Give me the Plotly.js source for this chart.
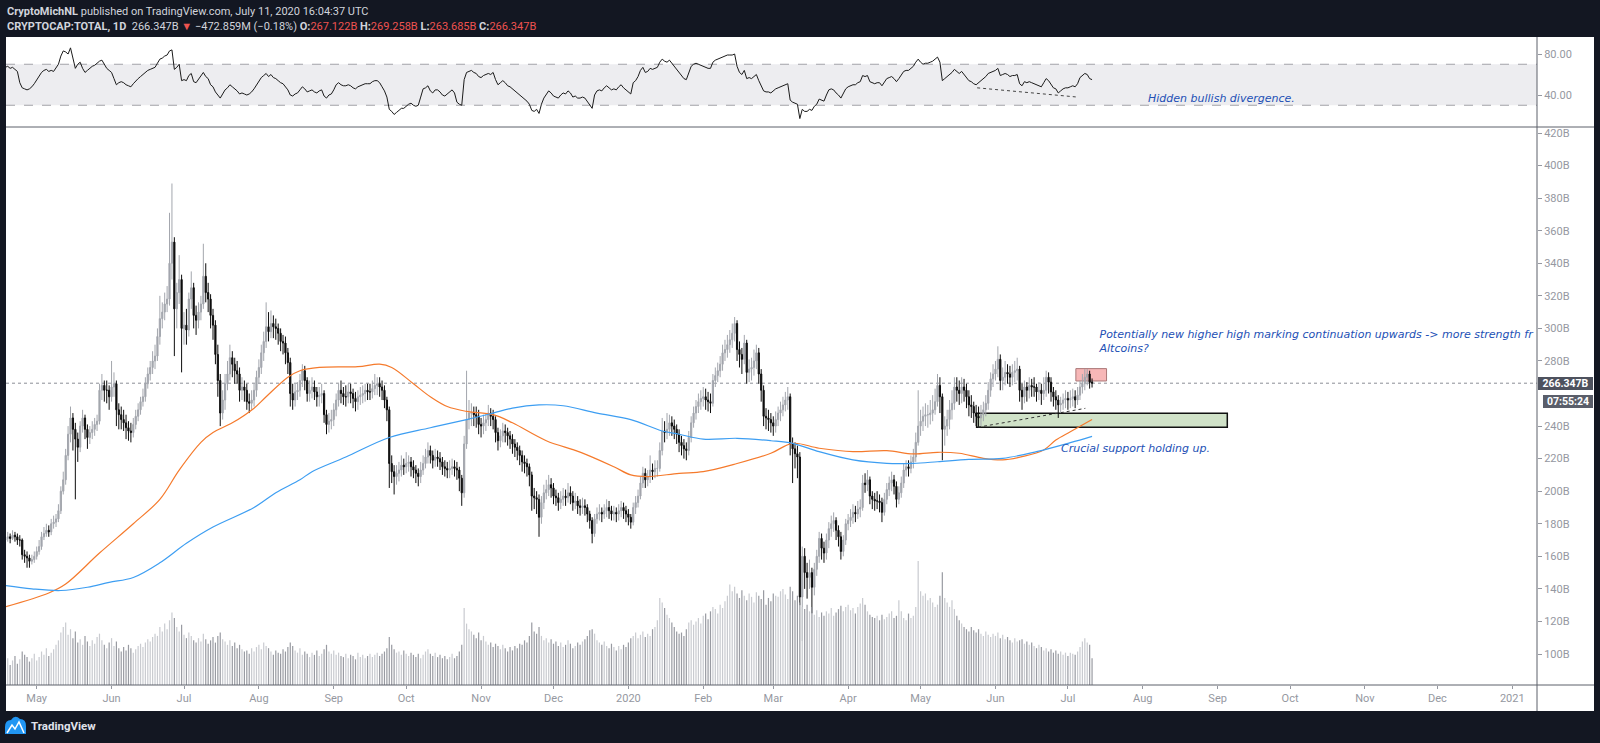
<!DOCTYPE html>
<html><head><meta charset="utf-8">
<script src="https://cdn.plot.ly/plotly-3.0.1.min.js"></script>
<style>html,body{margin:0;padding:0;background:#131722;overflow:hidden}#chart{width:1600px;height:743px}</style>
</head><body><div id="chart"></div>
<script>
// ---- data (daily candles, CRYPTOCAP:TOTAL, in billions USD), first candle 2019-04-18 ----
const firstDay = [2019, 3, 18];
const openP = [170,171,172,171,173,172,170,170,161,160,159,157,158,160,163,166,172,174,176,175,180,181,183,188,200,207,222,235,245,238,232,227,240,245,238,233,236,238,241,243,262,265,262,262,258,264,266,250,247,244,242,239,237,236,241,246,250,255,258,266,272,276,280,283,295,306,310,315,318,340,353,312,322,330,300,302,299,318,325,308,305,310,315,332,322,318,308,302,284,268,248,256,266,272,282,278,274,272,262,264,262,255,254,256,262,270,276,285,292,301,298,303,301,300,297,292,291,285,279,260,256,261,262,268,274,268,260,262,264,261,258,259,260,247,241,243,244,250,256,262,260,258,258,261,260,257,255,258,259,260,262,261,261,263,265,266,264,262,256,250,217,212,209,211,213,216,215,217,218,215,213,211,209,213,217,221,225,222,219,221,220,218,215,214,213,214,215,214,213,208,199,229,244,248,248,247,246,241,240,242,244,248,246,244,236,231,234,237,236,234,232,229,227,225,222,218,217,215,210,197,196,195,184,193,199,201,204,202,197,196,193,195,197,196,199,197,193,194,191,190,191,190,186,182,174,183,186,187,186,188,190,188,186,187,186,188,190,188,186,184,181,190,193,197,205,211,207,209,213,212,214,214,225,237,236,238,242,240,238,235,230,228,226,225,233,242,248,252,255,257,258,256,255,254,268,271,274,278,285,287,290,293,297,303,287,284,281,291,273,275,276,280,285,272,262,246,245,244,242,240,244,248,250,253,256,258,229,226,223,221,135,160,150,147,150,141,152,160,171,165,162,170,177,180,182,176,172,163,170,180,182,184,187,186,189,190,205,204,207,197,195,194,194,193,187,195,201,205,207,203,195,199,205,213,215,214,218,221,230,240,243,246,247,247,248,250,255,265,258,238,240,244,250,254,264,262,260,264,262,258,253,252,248,246,245,247,250,254,262,269,272,275,281,268,270,273,272,270,273,274,275,262,258,264,262,265,264,264,261,262,260,262,270,267,261,258,256,253,254,256,257,256,257,258,256,259,264,266,270,272,267.122];
const highP = [174,175,174,176,175,174,173,171,164,163,161,161,163,166,170,175,178,180,179,183,185,186,192,203,212,226,240,252,248,242,236,243,250,247,241,240,243,245,247,266,272,268,268,265,280,273,268,254,252,250,247,243,242,245,250,254,258,263,270,276,280,286,290,300,320,316,322,326,371,389,356,328,345,333,310,312,322,335,328,314,316,320,352,340,328,321,312,305,290,272,262,272,280,290,286,282,280,276,270,268,266,260,262,266,274,281,290,298,316,310,311,308,306,303,300,296,295,288,282,266,266,267,272,278,277,270,268,270,268,264,264,266,262,250,248,250,254,260,266,268,264,265,266,266,263,261,262,264,265,266,266,266,268,272,270,270,268,265,258,252,222,216,216,218,222,220,224,222,221,219,216,214,218,222,226,230,228,225,226,225,224,221,219,218,219,220,219,218,215,210,234,274,256,254,252,252,250,245,247,248,253,251,250,246,239,238,242,241,239,237,235,232,230,228,225,222,220,217,212,202,200,198,197,204,207,210,208,205,201,199,200,202,201,205,203,200,199,197,195,196,195,192,188,184,186,190,192,190,192,195,194,191,191,190,192,194,193,191,189,186,193,197,201,209,215,214,213,222,217,219,219,230,245,243,248,247,246,244,241,238,234,232,230,237,246,252,256,260,262,264,263,261,260,272,276,279,283,290,293,296,299,303,307,305,292,288,296,293,281,282,287,290,288,275,265,251,250,248,246,249,252,255,258,261,264,260,233,230,228,224,166,165,156,158,153,156,164,175,174,169,174,181,185,187,184,179,175,173,183,186,189,192,191,194,195,210,211,213,209,200,199,200,198,196,199,205,209,212,210,206,203,209,217,219,219,222,226,236,262,250,252,254,253,256,259,263,272,270,260,246,250,256,262,270,270,268,270,269,266,262,259,255,253,252,253,255,259,267,273,278,280,289,284,276,280,278,277,278,280,282,277,266,268,267,270,269,270,266,267,266,270,274,273,270,264,262,259,258,260,262,261,262,263,262,264,268,272,275,275,274,269.258];
const lowP = [168,169,168,170,169,167,166,158,156,153,153,155,156,158,161,164,170,172,172,173,177,178,181,186,198,204,219,230,225,195,218,224,236,232,226,229,232,234,237,241,256,255,254,250,255,258,240,238,238,237,232,231,230,233,238,243,247,252,255,263,268,272,275,280,290,300,305,310,314,330,283,300,315,273,290,290,295,312,300,296,300,305,312,316,310,300,293,278,258,240,244,250,262,268,270,266,266,255,256,255,250,248,250,252,258,266,272,280,288,292,294,294,293,290,286,284,278,272,252,250,252,256,258,264,262,255,255,257,256,252,252,254,242,235,236,238,240,246,252,254,253,252,254,254,251,249,250,253,254,255,256,256,257,259,259,258,256,251,243,202,205,198,204,206,209,210,211,212,209,208,205,203,205,210,214,217,217,214,215,215,213,210,209,208,208,210,209,207,200,191,196,226,238,240,240,239,235,233,235,237,240,240,238,230,225,227,230,230,228,226,223,221,219,216,212,211,209,203,188,189,186,172,180,189,195,197,196,192,191,188,189,191,191,193,192,188,189,186,185,186,185,181,177,168,172,180,182,181,183,184,183,182,182,181,182,184,183,181,179,177,179,186,190,195,202,202,203,205,207,208,209,212,222,230,232,234,234,232,229,224,222,220,219,222,230,239,244,248,250,252,250,249,248,252,264,267,270,274,280,282,285,288,292,280,276,272,278,266,267,268,271,275,266,255,240,238,237,236,234,236,240,243,246,249,250,222,205,214,208,130,108,140,134,140,125,136,148,156,158,156,158,165,172,175,170,166,158,160,167,176,178,180,181,183,184,188,199,200,192,189,188,189,187,181,185,192,197,200,198,190,192,196,202,209,209,211,214,218,228,234,237,240,239,241,243,247,252,248,219,228,234,238,244,250,255,253,254,255,251,246,245,242,240,239,240,243,246,250,258,264,268,270,262,262,265,266,264,265,267,268,255,250,254,255,257,258,258,255,256,253,256,258,260,255,252,250,245,248,250,251,250,251,252,251,253,256,260,262,265,263,263.685];
const closeP = [171,172,171,173,172,170,170,161,160,159,157,158,160,163,166,172,174,176,175,180,181,183,188,200,207,222,235,245,238,232,227,240,245,238,233,236,238,241,243,262,265,262,262,258,264,266,250,247,244,242,239,237,236,241,246,250,255,258,266,272,276,280,283,295,306,310,315,318,340,353,312,322,330,300,302,299,318,325,308,305,310,315,332,322,318,308,302,284,268,248,256,266,272,282,278,274,272,262,264,262,255,254,256,262,270,276,285,292,301,298,303,301,300,297,292,291,285,279,260,256,261,262,268,274,268,260,262,264,261,258,259,260,247,241,243,244,250,256,262,260,258,258,261,260,257,255,258,259,260,262,261,261,263,265,266,264,262,256,250,217,212,209,211,213,216,215,217,218,215,213,211,209,213,217,221,225,222,219,221,220,218,215,214,213,214,215,214,213,208,199,229,244,248,248,247,246,241,240,242,244,248,246,244,236,231,234,237,236,234,232,229,227,225,222,218,217,215,210,197,196,195,184,193,199,201,204,202,197,196,193,195,197,196,199,197,193,194,191,190,191,190,186,182,174,183,186,187,186,188,190,188,186,187,186,188,190,188,186,184,181,190,193,197,205,211,207,209,213,212,214,214,225,237,236,238,242,240,238,235,230,228,226,225,233,242,248,252,255,257,258,256,255,254,268,271,274,278,285,287,290,293,297,303,287,284,281,291,273,275,276,280,285,272,262,246,245,244,242,240,244,248,250,253,256,258,229,226,223,221,135,160,150,147,150,141,152,160,171,165,162,170,177,180,182,176,172,163,170,180,182,184,187,186,189,190,205,204,207,197,195,194,194,193,187,195,201,205,207,203,195,199,205,213,215,214,218,221,230,240,243,246,247,247,248,250,255,265,258,238,240,244,250,254,264,262,260,264,262,258,253,252,248,246,245,247,250,254,262,269,272,275,281,268,270,273,272,270,273,274,275,262,258,264,262,265,264,264,261,262,260,262,270,267,261,258,256,253,254,256,257,256,257,258,256,259,264,266,270,272,266.82,266.347];
const volume = [20,24,18,22,26,19,23,30,27,25,21,24,28,22,25,30,27,33,26,29,32,36,40,47,52,56,45,50,42,48,38,41,36,44,39,35,40,37,43,46,40,36,33,38,42,35,39,33,30,34,31,36,33,29,32,35,37,34,38,41,39,43,46,44,52,48,55,50,58,65,60,52,48,54,45,42,47,44,40,38,42,39,46,41,37,40,43,38,44,47,41,39,36,40,35,38,33,36,32,30,31,28,33,30,34,36,32,38,35,33,30,27,31,29,28,32,30,34,38,35,31,29,33,27,30,28,25,29,27,31,26,28,32,36,30,28,31,27,29,26,25,28,24,27,26,23,29,25,27,24,26,28,25,27,29,26,28,30,33,43,36,32,29,30,27,31,28,26,29,27,25,28,24,27,30,32,28,26,29,25,27,24,26,23,25,28,24,26,30,36,69,55,50,48,45,42,47,40,44,39,36,38,34,37,35,32,36,33,30,34,31,35,33,37,36,40,38,44,56,48,46,52,44,40,42,38,41,37,39,35,38,34,36,40,37,33,35,38,36,39,41,44,49,50,46,40,38,36,39,35,33,37,34,31,35,32,36,34,38,42,44,47,42,45,48,43,46,44,50,52,58,78,74,69,63,60,56,52,48,46,47,44,50,56,58,54,57,60,55,62,64,59,66,70,68,64,72,69,75,80,90,84,88,82,78,85,80,76,82,79,74,83,80,77,85,72,78,75,82,80,79,84,86,81,77,88,84,76,80,74,70,68,72,66,70,63,67,61,65,62,66,64,69,62,65,68,71,66,70,72,67,69,64,70,73,78,72,66,63,61,60,62,58,63,59,61,64,66,60,62,76,66,60,58,64,60,62,70,111,84,80,82,76,78,74,70,72,80,101,78,74,70,76,68,62,58,55,52,50,48,52,49,47,50,46,44,48,45,43,46,44,47,42,45,41,43,40,38,42,39,40,41,37,39,36,38,35,33,36,34,31,33,30,32,29,31,28,30,27,29,26,29,28,27,30,34,39,42,38,36,24];
const rsi14 = [67,68,66,67,65,63,52,47,46,45,46,48,51,55,58,62,64,65,63,64,63,66,70,78,83,82,80,86,76,66,70,72,66,62,64,66,68,69,71,73,74,70,66,64,62,56,50,52,53,52,50,49,48,51,54,56,58,60,62,64,65,66,67,71,75,76,78,79,83,84,65,67,70,54,55,54,59,61,53,52,55,58,62,58,56,50,48,43,40,37,41,45,47,50,48,46,44,41,42,41,40,41,43,46,50,54,57,59,61,58,60,57,56,54,52,51,48,45,40,39,41,42,45,48,46,43,44,45,43,42,44,45,39,37,40,41,45,50,52,50,49,49,50,49,47,46,48,49,50,51,51,51,53,54,54,52,48,44,38,26,24,21,23,25,27,27,29,31,32,30,29,30,38,46,47,49,44,42,45,45,43,40,39,41,43,45,42,33,31,30,55,62,63,64,62,61,58,57,59,60,61,60,62,55,50,52,54,52,49,48,46,44,42,40,38,36,34,31,25,24,26,22,31,37,40,44,42,39,38,37,40,42,41,44,42,38,39,37,37,38,37,34,31,27,40,44,45,44,47,49,47,45,46,45,48,50,47,45,43,41,52,54,58,64,67,62,63,66,65,66,67,72,75,73,72,74,71,68,65,61,58,56,55,61,68,70,71,70,69,68,67,66,66,72,74,75,76,77,78,79,79,79,80,68,62,60,64,56,57,56,58,60,54,49,44,43,43,42,44,46,47,48,49,50,51,35,33,32,31,17,26,24,24,26,25,29,31,36,35,34,40,45,46,45,42,40,37,41,46,48,49,50,50,52,53,59,58,59,53,52,51,52,52,49,53,56,57,58,56,53,56,60,63,64,64,66,68,72,75,72,70,71,71,72,73,75,77,72,54,56,58,60,62,65,63,61,63,60,57,54,53,51,50,52,54,56,58,61,62,63,64,66,59,60,61,60,58,59,59,60,51,49,53,52,53,52,51,50,49,48,52,56,54,50,47,46,42,44,46,47,47,48,49,48,51,57,59,61,60,56,55];
// moving averages (orange / blue) at candle indices
const maOrangeIdx = [0,18,25,39,53,64,72,81,86,94,103,108,117,122,130,146,155,160,169,176,183,191,202,210,224,238,252,259,266,279,289,303,317,326,337,351,365,376,386,395,405,413,421,430,435,441,450];
const maOrangeVal = [129,137.5,143,162,180,195,213,230,236,242,251,258,270,274,276,276.5,278,276,266,258,252,249,247,242,231,224,215,210,209,211,212,217,223.3,229.4,226.4,224.3,224.9,222.9,223.9,223.3,220.2,219.2,221.2,225.3,231.4,236.5,244];
const maBlueIdx = [0,11,23,34,43,53,64,75,86,103,112,122,127,141,159,176,191,202,210,221,231,245,259,272,279,289,303,317,326,337,351,365,376,386,399,413,427,441,450];
const maBlueVal = [142,140,139,141,144,147,156,168,178,190,199,207,212,221,233,239,244,248,251,253,252.5,248,244,237,235,232,232.5,231,229.4,224.3,219.2,217.1,217.1,218.1,219.6,220.2,224.3,229.8,233.7];
// axis ticks (260B is hidden behind the last-price labels in the picture)
const monthTicks = ['2019-05-01','2019-06-01','2019-07-01','2019-08-01','2019-09-01','2019-10-01','2019-11-01','2019-12-01','2020-01-01','2020-02-01','2020-03-01','2020-04-01','2020-05-01','2020-06-01','2020-07-01','2020-08-01','2020-09-01','2020-10-01','2020-11-01','2020-12-01','2021-01-01'];
const monthLabels = ['May','Jun','Jul','Aug','Sep','Oct','Nov','Dec','2020','Feb','Mar','Apr','May','Jun','Jul','Aug','Sep','Oct','Nov','Dec','2021'];
const priceTicks = [100,120,140,160,180,200,220,240,280,300,320,340,360,380,400,420];
const priceTickLabels = ['100B','120B','140B','160B','180B','200B','220B','240B','280B','300B','320B','340B','360B','380B','400B','420B'];
const rsiTicks = [40,80];
const rsiTickLabels = ['40.00','80.00'];
// drawings on the chart
const supportZone = {x0:'2020-05-24 05:00', x1:'2020-09-05 00:00', y0:239.25, y1:247.85};
const targetZone = {x0:'2020-07-04 07:00', x1:'2020-07-17 00:00', y0:267.7, y1:275.3};
const supportLine = {x0:'2020-05-24 19:00', y0:239.3, x1:'2020-07-08 05:00', y1:250.9};
const rsiDivLine = {x0:'2020-05-24 10:00', y0:47, x1:'2020-07-04 20:00', y1:38};
const noteHigh = {x:'2020-07-14 02:00', y:291.3, text:'Potentially new higher high marking continuation upwards -> more strength fr<br>Altcoins?'};
const noteSupport = {x:'2020-06-27 12:00', y:226.3, text:'Crucial support holding up.'};
const noteRsi = {x:'2020-08-02 05:00', y:36.8, text:'Hidden bullish divergence.'};

// ---- build ----
const t0 = Date.UTC(firstDay[0], firstDay[1], firstDay[2]);
const dates = closeP.map((_, i) => new Date(t0 + i * 86400000).toISOString().slice(0, 10));
const last = closeP.length - 1;
const lastClose = closeP[last];

const L = 6, R = 1537, T = 37, B = 685, W = R - L, H = B - T;
const px = X => (X - L) / W;
const py = Y => (B - Y) / H;
function pth(cmds){ return cmds.map(c => c[0] + (c.length>1 ? c.slice(1).map((v,k)=> k%2===0 ? px(v).toFixed(5) : py(v).toFixed(5)).join(',') : '')).join(' '); }

const noteFont = {family:'DejaVu Sans, sans-serif', size:11, color:'#2350b5', style:'italic'};
const volColors = closeP.map((c, i) => c >= openP[i] ? '#c9cbd0' : '#999ba2');

const traces = [
  {type:'bar', x:dates, y:volume, yaxis:'y3', marker:{color:volColors, line:{width:0}}, width:86400000*0.5, hoverinfo:'skip'},
  {type:'scatter', mode:'lines', x:maOrangeIdx.map(i=>dates[i]), y:maOrangeVal, line:{color:'#f57a2c', width:1.2, shape:'spline', smoothing:1}, hoverinfo:'skip'},
  {type:'scatter', mode:'lines', x:maBlueIdx.map(i=>dates[i]), y:maBlueVal, line:{color:'#3d9ef2', width:1.2, shape:'spline', smoothing:1}, hoverinfo:'skip'},
  {type:'candlestick', x:dates, open:openP, high:highP, low:lowP, close:closeP,
   increasing:{line:{color:'#a3a6ad', width:1}, fillcolor:'#a3a6ad'},
   decreasing:{line:{color:'#0d0d0d', width:1}, fillcolor:'#0d0d0d'}, whiskerwidth:0, hoverinfo:'skip'},
  {type:'scatter', mode:'lines', x:dates, y:rsi14, yaxis:'y2', line:{color:'#1b1b1b', width:1}, hoverinfo:'skip'},
  {type:'scatter', mode:'text', x:[noteHigh.x], y:[noteHigh.y], text:[noteHigh.text], textposition:'middle right', textfont:noteFont, cliponaxis:true, hoverinfo:'skip'}
];

const axisFont = {family:'Roboto, sans-serif', size:11, color:'#9598a1'};
const shapes = [
  {type:'rect', xref:'paper', yref:'paper', x0:px(6), x1:px(1594), y0:py(37), y1:py(711), fillcolor:'#ffffff', line:{width:0}, layer:'below'},
  {type:'rect', xref:'paper', yref:'y2', x0:0, x1:1, y0:30, y1:70, fillcolor:'#ededf0', line:{width:0}, layer:'below'},
  {type:'line', xref:'paper', yref:'y2', x0:0, x1:1, y0:70, y1:70, line:{color:'#a3a3a8', width:1, dash:'dash'}, layer:'below'},
  {type:'line', xref:'paper', yref:'y2', x0:0, x1:1, y0:30, y1:30, line:{color:'#a3a3a8', width:1, dash:'dash'}, layer:'below'},
  {type:'rect', xref:'x', yref:'y', x0:supportZone.x0, x1:supportZone.x1, y0:supportZone.y0, y1:supportZone.y1, fillcolor:'#d0e2c8', line:{color:'#111111', width:1.5}, layer:'below'},
  {type:'rect', xref:'x', yref:'y', x0:targetZone.x0, x1:targetZone.x1, y0:targetZone.y0, y1:targetZone.y1, fillcolor:'#f7b7b7', line:{color:'#a77', width:1}, layer:'below'},
  {type:'line', xref:'x', yref:'y', x0:supportLine.x0, y0:supportLine.y0, x1:supportLine.x1, y1:supportLine.y1, line:{color:'#333', width:1, dash:'dot'}},
  {type:'line', xref:'x', yref:'y2', x0:rsiDivLine.x0, y0:rsiDivLine.y0, x1:rsiDivLine.x1, y1:rsiDivLine.y1, line:{color:'#444', width:1, dash:'dot'}},
  {type:'line', xref:'paper', yref:'y', x0:0, x1:1, y0:lastClose, y1:lastClose, line:{color:'#8a8d96', width:1, dash:'dot'}, layer:'below'},
  {type:'line', xref:'paper', yref:'paper', x0:px(6), x1:px(1594), y0:py(127), y1:py(127), line:{color:'#5d606b', width:1}},
  {type:'line', xref:'paper', yref:'paper', x0:px(6), x1:px(1594), y0:py(685), y1:py(685), line:{color:'#5d606b', width:1}},
  {type:'line', xref:'paper', yref:'paper', x0:1, x1:1, y0:py(37), y1:py(711), line:{color:'#5d606b', width:1}},
  {type:'path', xref:'paper', yref:'paper', path:pth([['M',5,734],['L',5,727],['Q',5,720,11,720],['Q',15,714,20,719],['Q',26,719,26,726],['L',26,734],['Z']]), fillcolor:'#2196f3', line:{width:0}},
  {type:'path', xref:'paper', yref:'paper', path:pth([['M',7,733],['L',12,725],['L',15,729],['L',19,722],['L',24,733]]), line:{color:'#ffffff', width:1.5}}
];

const red = '#ef5350';
const annotations = [
  {xref:'paper', yref:'paper', x:px(5), y:py(12), xanchor:'left', yanchor:'middle', showarrow:false,
   text:'<b>CryptoMichNL</b> published on TradingView.com, July 11, 2020 16:04:37 UTC', font:{family:'Roboto, sans-serif', size:11, color:'#d1d4dc'}},
  {xref:'paper', yref:'paper', x:px(5), y:py(27), xanchor:'left', yanchor:'middle', showarrow:false,
   text:'<b>CRYPTOCAP:TOTAL, 1D</b>  266.347B <span style="color:'+red+'">▼</span> −472.859M (−0.18%) <b>O:</b><span style="color:'+red+'">267.122B</span> <b>H:</b><span style="color:'+red+'">269.258B</span> <b>L:</b><span style="color:'+red+'">263.685B</span> <b>C:</b><span style="color:'+red+'">266.347B</span>',
   font:{family:'Roboto, sans-serif', size:11, color:'#d1d4dc'}},
  {xref:'paper', yref:'paper', x:px(29), y:py(726), xanchor:'left', yanchor:'middle', showarrow:false,
   text:'<b>TradingView</b>', font:{family:'Roboto, sans-serif', size:11.5, color:'#e0e3eb'}},
  {xref:'paper', yref:'y', x:px(1565.5), y:lastClose, xanchor:'center', yanchor:'middle', showarrow:false,
   text:'<b>'+lastClose.toFixed(3)+'B</b>', bgcolor:'#4e525e', width:55, height:13, borderpad:0, borderwidth:0,
   font:{family:'Roboto, sans-serif', size:10.5, color:'#ffffff'}},
  {xref:'paper', yref:'paper', x:px(1568), y:py(401), xanchor:'center', yanchor:'middle', showarrow:false,
   text:'<b>07:55:24</b>', bgcolor:'#5a5e6a', width:50, height:13, borderpad:0, borderwidth:0,
   font:{family:'Roboto, sans-serif', size:10.5, color:'#ffffff'}},
  {xref:'x', yref:'y', x:noteSupport.x, y:noteSupport.y, xanchor:'left', yanchor:'middle', showarrow:false, text:noteSupport.text, font:noteFont},
  {xref:'x', yref:'y2', x:noteRsi.x, y:noteRsi.y, xanchor:'left', yanchor:'middle', showarrow:false, text:noteRsi.text, font:noteFont}
];

const layout = {
  width:1600, height:743,
  margin:{l:L, r:1600-R, t:T, b:743-B, pad:0},
  paper_bgcolor:'#131722', plot_bgcolor:'#ffffff',
  showlegend:false, hovermode:false, dragmode:false,
  font:axisFont,
  xaxis:{type:'date', range:['2019-04-18 06:55','2021-01-11 05:45'], tickvals:monthTicks, ticktext:monthLabels,
         ticks:'outside', ticklen:3, tickcolor:'#9598a1', showgrid:false, zeroline:false, showline:false,
         rangeslider:{visible:false}, tickfont:axisFont, fixedrange:true},
  yaxis:{domain:[0, py(127)], range:[80.96, 423.71], side:'right', tickvals:priceTicks, ticktext:priceTickLabels,
         ticks:'outside', ticklen:4, tickcolor:'#9598a1', showgrid:false, zeroline:false, showline:false, tickfont:axisFont, fixedrange:true},
  yaxis2:{domain:[py(127), 1], range:[8.78, 96.59], side:'right', anchor:'x', tickvals:rsiTicks, ticktext:rsiTickLabels,
          ticks:'outside', ticklen:4, tickcolor:'#9598a1', showgrid:false, zeroline:false, showline:false, tickfont:axisFont, fixedrange:true},
  yaxis3:{overlaying:'y', range:[0, 500], visible:false, fixedrange:true},
  shapes:shapes, annotations:annotations
};

Plotly.newPlot('chart', traces, layout, {displayModeBar:false, staticPlot:true});
</script>
</body></html>
